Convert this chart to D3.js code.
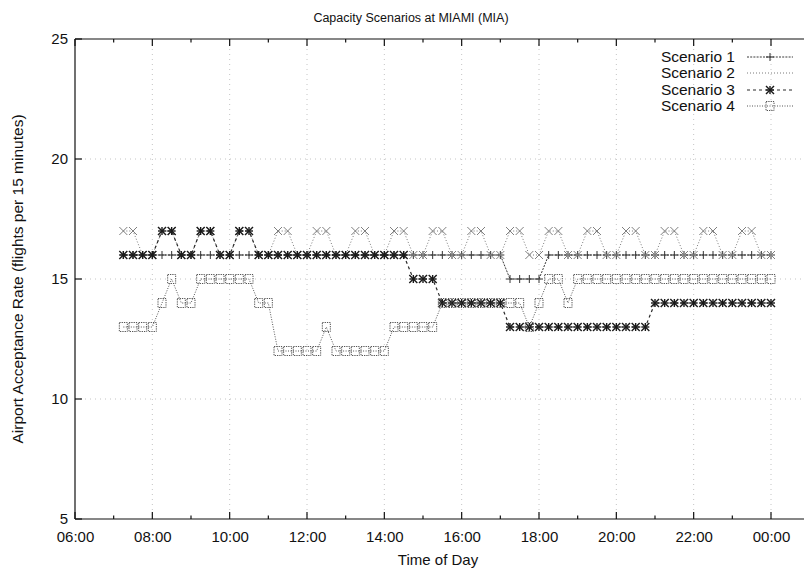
<!DOCTYPE html>
<html>
<head>
<meta charset="utf-8">
<script src="https://cdn.jsdelivr.net/npm/d3@7"></script>
<style>
  html, body { margin: 0; padding: 0; background: #fff; }
  svg { display: block; font-family: "Liberation Sans", Arial, Helvetica, sans-serif; }
</style>
</head>
<body>
<svg id="chart" width="804" height="576"></svg>
<script>
// ---- data ----
const startHour = 7.25;            // first sample 07:15, every 15 minutes to 00:00
const stepHours = 0.25;
const scenarioNames = ["Scenario 1", "Scenario 2", "Scenario 3", "Scenario 4"];
const scenario1 = [16,16,16,16,16,16,16,16,16,16,16,16,16,16,16,16,16,16,16,16,
                   16,16,16,16,16,16,16,16,16,16,16,16,16,16,16,16,16,16,16,16,
                   15,15,15,15,
                   16,16,16,16,16,16,16,16,16,16,16,16,16,16,16,16,16,16,16,16,16,16,16,16];
const scenario2 = [17,17,16,16,17,17,16,16,17,17,16,16,17,17,16,16,17,17,16,16,
                   17,17,16,16,17,17,16,16,17,17,16,16,17,17,16,16,17,17,16,16,
                   17,17,16,16,17,17,16,16,17,17,16,16,17,17,16,16,17,17,16,16,
                   17,17,16,16,17,17,16,16];
const scenario3 = [16,16,16,16,17,17,16,16,17,17,16,16,17,17,
                   16,16,16,16,16,16,16,16,16,16,16,16,16,16,16,16,
                   15,15,15,
                   14,14,14,14,14,14,14,
                   13,13,13,13,13,13,13,13,13,13,13,13,13,13,13,
                   14,14,14,14,14,14,14,14,14,14,14,14,14];
const scenario4 = [13,13,13,13,14,15,14,14,15,15,15,15,15,15,14,14,
                   12,12,12,12,12,13,12,12,12,12,12,12,
                   13,13,13,13,13,
                   14,14,14,14,14,14,14,14,14,
                   13,14,15,15,14,
                   15,15,15,15,15,15,15,15,15,15,15,15,15,15,15,15,15,15,15,15,15];
const xTickHours = [6, 8, 10, 12, 14, 16, 18, 20, 22, 24];
const xTickLabels = ["06:00","08:00","10:00","12:00","14:00","16:00","18:00","20:00","22:00","00:00"];
const xMinorHours = [7, 9, 11, 13, 15, 17, 19, 21, 23];
const yTicks = [5, 10, 15, 20, 25];
const titleText = "Capacity Scenarios at MIAMI (MIA)";
const xLabel = "Time of Day";
const yLabel = "Airport Acceptance Rate (flights per 15 minutes)";

// ---- layout ----
const svg = d3.select("#chart");
const plotLeft = 75, plotTop = 39, plotBottom = 519, plotRight = 804;
const x = d3.scaleLinear().domain([6, 24]).range([plotLeft, 771]);
const y = d3.scaleLinear().domain([5, 25]).range([plotBottom, plotTop]);

const seriesList = [scenario1, scenario2, scenario3, scenario4].map((vals, k) => ({
  name: scenarioNames[k],
  points: vals.map((v, i) => ({ t: startHour + i * stepHours, v }))
}));

const styles = [
  { dash: "2,1.2", color: "#3a3a3a", width: 1.0, marker: "plus",   mcolor: "#333" },
  { dash: "1,2",   color: "#7a7a7a", width: 1.0, marker: "cross",  mcolor: "#808080" },
  { dash: "3,3",   color: "#2a2a2a", width: 1.2, marker: "star",   mcolor: "#1a1a1a" },
  { dash: "1,1.5", color: "#555",    width: 1.0, marker: "square", mcolor: "#555" }
];

// ---- grid ----
const grid = svg.append("g").attr("class", "grid");
grid.selectAll("line.v").data(xTickHours.slice(1)).join("line")
  .attr("x1", d => x(d)).attr("x2", d => x(d))
  .attr("y1", plotTop).attr("y2", plotBottom)
  .attr("stroke", "#c4c4c4").attr("stroke-width", 1).attr("stroke-dasharray", "1,4");
grid.selectAll("line.h").data(yTicks.slice(1, -1)).join("line")
  .attr("x1", plotLeft).attr("x2", plotRight)
  .attr("y1", d => y(d)).attr("y2", d => y(d))
  .attr("stroke", "#c4c4c4").attr("stroke-width", 1).attr("stroke-dasharray", "1,4");

// ---- frame / axes ----
const axisG = svg.append("g").attr("stroke", "#111").attr("stroke-width", 1.2);
axisG.append("line").attr("x1", plotLeft).attr("x2", plotRight).attr("y1", plotBottom).attr("y2", plotBottom);
axisG.append("line").attr("x1", plotLeft).attr("x2", plotRight).attr("y1", plotTop).attr("y2", plotTop);
axisG.append("line").attr("x1", plotLeft).attr("x2", plotLeft).attr("y1", plotTop).attr("y2", plotBottom);

const xAxis = d3.axisBottom(x).tickValues(xTickHours)
  .tickFormat((d, i) => xTickLabels[i]).tickSize(0).tickPadding(12);
const xa = svg.append("g").attr("transform", `translate(0,${plotBottom})`).call(xAxis);
xa.select(".domain").remove();
xa.selectAll("text").attr("font-size", 15).attr("fill", "#111")
  .attr("font-family", "'Liberation Sans', Arial, sans-serif");

const yAxis = d3.axisLeft(y).tickValues(yTicks).tickSize(0).tickPadding(7);
const ya = svg.append("g").attr("transform", `translate(${plotLeft},0)`).call(yAxis);
ya.select(".domain").remove();
ya.selectAll("text").attr("font-size", 15).attr("fill", "#111")
  .attr("font-family", "'Liberation Sans', Arial, sans-serif");

// inward ticks
const tickG = svg.append("g").attr("stroke", "#111").attr("stroke-width", 1.2);
xTickHours.forEach(h => {
  tickG.append("line").attr("x1", x(h)).attr("x2", x(h)).attr("y1", plotBottom).attr("y2", plotBottom - 7);
  tickG.append("line").attr("x1", x(h)).attr("x2", x(h)).attr("y1", plotTop).attr("y2", plotTop + 7);
});
xMinorHours.forEach(h => {
  tickG.append("line").attr("x1", x(h)).attr("x2", x(h)).attr("y1", plotBottom).attr("y2", plotBottom - 3.5);
  tickG.append("line").attr("x1", x(h)).attr("x2", x(h)).attr("y1", plotTop).attr("y2", plotTop + 3.5);
});
yTicks.forEach(v => {
  tickG.append("line").attr("x1", plotLeft).attr("x2", plotLeft + 7).attr("y1", y(v)).attr("y2", y(v));
});

// ---- markers ----
function drawMarker(g, cx, cy, type, color) {
  const s = 4;
  const w = type === "star" ? 1.4 : 1;
  if (type === "plus" || type === "star") {
    g.append("line").attr("x1", cx - s).attr("x2", cx + s).attr("y1", cy).attr("y2", cy)
      .attr("stroke", color).attr("stroke-width", w);
    g.append("line").attr("x1", cx).attr("x2", cx).attr("y1", cy - s).attr("y2", cy + s)
      .attr("stroke", color).attr("stroke-width", w);
  }
  if (type === "cross" || type === "star") {
    g.append("line").attr("x1", cx - s).attr("x2", cx + s).attr("y1", cy - s).attr("y2", cy + s)
      .attr("stroke", color).attr("stroke-width", w);
    g.append("line").attr("x1", cx - s).attr("x2", cx + s).attr("y1", cy + s).attr("y2", cy - s)
      .attr("stroke", color).attr("stroke-width", w);
  }
  if (type === "square") {
    g.append("rect").attr("x", cx - 4).attr("y", cy - 4.5).attr("width", 8).attr("height", 9)
      .attr("fill", "none").attr("stroke", color).attr("stroke-width", 1)
      .attr("stroke-dasharray", "1.3,1");
  }
}

// ---- series ----
const plot = svg.append("g");
const line = d3.line().x(d => x(d.t)).y(d => y(d.v));
seriesList.forEach((s, k) => {
  const st = styles[k];
  const g = plot.append("g").attr("class", "series-" + (k + 1));
  g.append("path").datum(s.points).attr("d", line)
    .attr("fill", "none").attr("stroke", st.color).attr("stroke-width", st.width)
    .attr("stroke-dasharray", st.dash);
  s.points.forEach(p => drawMarker(g, x(p.t), y(p.v), st.marker, st.mcolor));
});

// ---- legend ----
const legend = svg.append("g");
const legendRows = [57, 73, 90, 106];
seriesList.forEach((s, k) => {
  const st = styles[k];
  const ly = legendRows[k];
  legend.append("text").attr("x", 735).attr("y", ly).attr("dy", "0.35em")
    .attr("text-anchor", "end").attr("font-size", 15.5).attr("fill", "#111")
    .text(s.name);
  legend.append("line").attr("x1", 747).attr("x2", 793).attr("y1", ly).attr("y2", ly)
    .attr("stroke", st.color).attr("stroke-width", st.width).attr("stroke-dasharray", st.dash);
  if (k !== 1) drawMarker(legend, 770, ly, st.marker, st.mcolor);
});

// ---- titles ----
svg.append("text").attr("x", 411).attr("y", 22).attr("text-anchor", "middle")
  .attr("font-size", 12.5).attr("fill", "#111").text(titleText);
svg.append("text").attr("x", 438).attr("y", 565).attr("text-anchor", "middle")
  .attr("font-size", 15).attr("fill", "#111").text(xLabel);
svg.append("text").attr("transform", "translate(23,279) rotate(-90)")
  .attr("text-anchor", "middle").attr("font-size", 15.5).attr("fill", "#111").text(yLabel);
</script>
</body>
</html>
